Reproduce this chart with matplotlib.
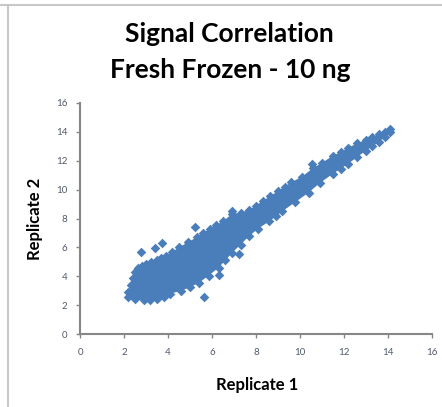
import numpy as np
import matplotlib.pyplot as plt
from matplotlib.lines import Line2D

# outline of the dense point cloud (marker centres along the upper and lower edges)
upper_x = [2.2, 2.3, 2.4, 2.5, 2.65, 2.8, 3.0, 3.25, 3.5, 3.7, 3.9, 4.2, 4.5, 4.9, 5.3, 5.6, 5.9, 6.2, 6.5, 6.9, 7.3, 7.7,
           8.0, 8.3, 8.65, 9.0, 9.3, 9.6, 10.1, 10.6, 11.0, 11.5, 11.85, 12.2, 12.6, 13.0, 13.3, 13.6, 13.85, 14.1]
upper_y = [2.9, 3.4, 3.9, 4.3, 4.6, 4.75, 4.85, 5.0, 5.1, 5.25, 5.4, 5.7, 6.0, 6.35, 6.7, 7.0, 7.3, 7.55, 7.8, 8.3, 8.4, 8.6,
           8.9, 9.2, 9.55, 9.9, 10.2, 10.5, 10.9, 11.5, 11.85, 12.35, 12.6, 12.9, 13.2, 13.45, 13.65, 13.85, 14.0, 14.2]
lower_x = [2.2, 2.5, 2.9, 3.2, 3.5, 3.8, 4.1, 4.6, 5.0, 5.4, 5.85, 6.3, 6.6, 6.9, 7.3, 7.7, 8.1, 8.6, 8.9, 9.2, 9.8, 10.4,
           10.9, 11.5, 11.85, 12.2, 12.6, 13.0, 13.3, 13.6, 13.85, 14.1]
lower_y = [2.6, 2.4, 2.35, 2.35, 2.4, 2.6, 2.8, 3.0, 3.25, 3.55, 4.05, 4.6, 5.1, 5.6, 6.2, 6.8, 7.3, 7.8, 8.15, 8.5, 9.15, 9.8,
           10.45, 11.1, 11.45, 11.8, 12.25, 12.7, 13.0, 13.3, 13.65, 14.0]

# isolated probes outside the main band
out_x = [2.79, 3.40, 3.75, 5.21, 5.63, 6.30, 7.25, 6.9, 10.55]
out_y = [5.70, 5.93, 6.33, 7.43, 2.58, 4.10, 5.58, 8.55, 11.8]

ticks = [0, 2, 4, 6, 8, 10, 12, 14, 16]

blue = '#4a7ebb'
plt.rcParams['font.family'] = ['Lato', 'DejaVu Sans']

fig = plt.figure(figsize=(4.42, 4.07), dpi=100)
ax = fig.add_axes([0.181, 0.179, 0.796, 0.568])

ax.fill(np.r_[upper_x, lower_x[::-1]], np.r_[upper_y, lower_y[::-1]], color=blue, lw=0)
for xs, ys in [(upper_x, upper_y), (lower_x, lower_y), (out_x, out_y)]:
    ax.scatter(xs, ys, marker='D', s=24, color=blue, lw=0)

ax.set_xlim(0, 16)
ax.set_ylim(0, 16)
ax.set_xticks(ticks)
ax.set_yticks(ticks)
ax.tick_params(labelsize=7, colors='#868686', labelcolor='#505a6a', length=3, width=1)
ax.tick_params(axis='x', pad=7)
ax.tick_params(axis='y', pad=6)
for s in ['top', 'right']:
    ax.spines[s].set_visible(False)
for s in ['left', 'bottom']:
    ax.spines[s].set_color('#868686')
    ax.spines[s].set_linewidth(1.5)

fig.text(0.52, 0.917, 'Signal Correlation', ha='center', va='center', fontsize=19, fontweight='bold')
fig.text(0.52, 0.828, 'Fresh Frozen - 10 ng', ha='center', va='center', fontsize=19, fontweight='bold')
fig.text(0.581, 0.054, 'Replicate 1', ha='center', va='center', fontsize=12, fontweight='bold')
fig.text(0.079, 0.463, 'Replicate 2', ha='center', va='center', fontsize=12, fontweight='bold', rotation=90)

# frame lines of the sheet
fig.add_artist(Line2D([0, 1], [0.988, 0.988], color='#c8c8c8', lw=1.5))
fig.add_artist(Line2D([0.018, 0.018], [0, 0.988], color='#c8c8c8', lw=1.5))

fig.savefig('out.png', dpi=100)
